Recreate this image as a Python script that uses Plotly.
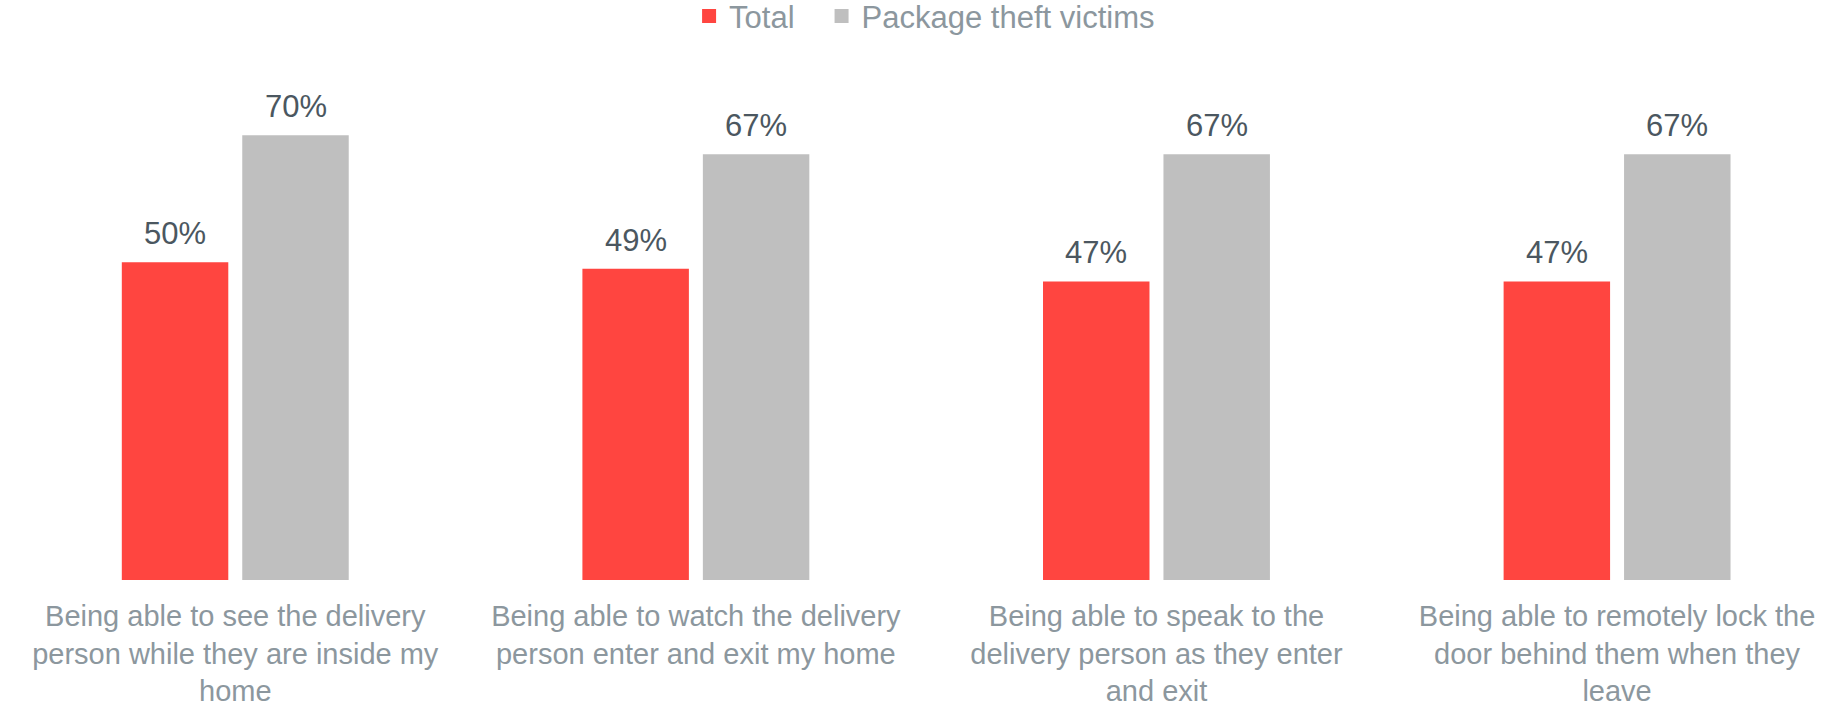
import plotly.graph_objects as go

categories = [
    "Being able to see the delivery<br>person while they are inside my<br>home",
    "Being able to watch the delivery<br>person enter and exit my home",
    "Being able to speak to the<br>delivery person as they enter<br>and exit",
    "Being able to remotely lock the<br>door behind them when they<br>leave",
]
series_names = ["Total", "Package theft victims"]
total = [50, 49, 47, 47]
theft_victims = [70, 67, 67, 67]

FONT = "Liberation Sans, Arial, sans-serif"
LABEL_GREY = "#8C979E"
VALUE_DARK = "#4B5760"
RED = "#FF4540"
GREY = "#BFBFBF"
BARGAP = 0.477

fig = go.Figure()
series = [(series_names[0], total, RED, "legend"),
          (series_names[1], theft_victims, GREY, "legend2")]
for name, vals, color, leg in series:
    fig.add_trace(go.Bar(
        name=name, x=categories, y=vals,
        marker=dict(color=color, line=dict(width=0)),
        showlegend=False, hoverinfo="x+y",
    ))
    # legend entry with a larger square swatch
    fig.add_trace(go.Scatter(
        name=name, x=[None], y=[None], mode="markers",
        marker=dict(symbol="square", size=14, color=color),
        showlegend=True, legend=leg,
    ))

# value labels above each bar, centred on the bar within its group
half_slot = (1 - BARGAP) / 4
annotations = []
for k, vals in enumerate([total, theft_victims]):
    offset = -half_slot if k == 0 else half_slot
    for i, v in enumerate(vals):
        annotations.append(dict(
            x=i + offset, y=v, xref="x", yref="y",
            text=f"{v}%", showarrow=False,
            xanchor="center", yanchor="bottom", yshift=9,
            font=dict(size=31, color=VALUE_DARK, family=FONT),
        ))

legend_style = dict(
    orientation="h", xanchor="left",
    y=0.977, yref="container", yanchor="middle",
    font=dict(size=31, color=LABEL_GREY, family=FONT),
    itemclick=False, bgcolor="rgba(0,0,0,0)",
)

fig.update_layout(
    width=1840, height=706,
    margin=dict(l=0, r=0, t=80, b=126),
    paper_bgcolor="white", plot_bgcolor="white",
    barmode="group", bargap=BARGAP, bargroupgap=0.116,
    font=dict(family=FONT, color=LABEL_GREY),
    showlegend=True,
    legend=dict(x=0.3745, **legend_style),
    legend2=dict(x=0.4465, **legend_style),
    annotations=annotations,
)
fig.update_xaxes(
    type="category", range=[-0.5108, 3.484],
    showgrid=False, zeroline=False, showline=False, ticks="",
    tickfont=dict(size=29, color=LABEL_GREY, family=FONT),
    ticklabelstandoff=16, automargin=False,
)
fig.update_yaxes(
    range=[0, 78.7], showgrid=False, zeroline=False, showline=False,
    showticklabels=False, ticks="", automargin=False,
)

fig.write_html("out.html")
